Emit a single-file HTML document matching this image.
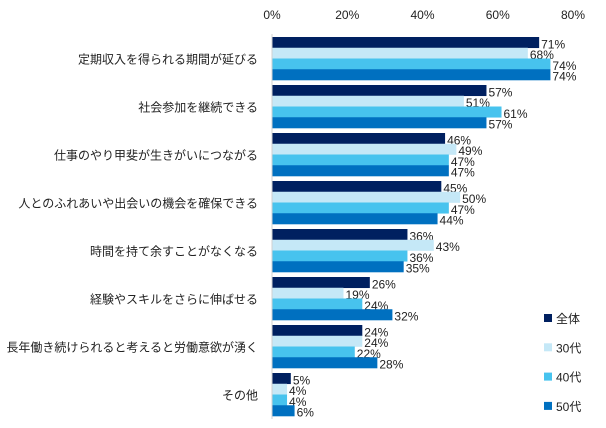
<!DOCTYPE html>
<html><head><meta charset="utf-8"><style>
body{margin:0;background:#fff;width:606px;height:423px;overflow:hidden}
svg text{font-family:"Liberation Sans","Noto Sans CJK JP",sans-serif;font-size:12px;fill:#222}
</style></head><body>
<svg id="c" width="606" height="423"></svg>
<script>
const categories=["定期収入を得られる期間が延びる","社会参加を継続できる","仕事のやり甲斐が生きがいにつながる","人とのふれあいや出会いの機会を確保できる","時間を持て余すことがなくなる","経験やスキルをさらに伸ばせる","長年働き続けられると考えると労働意欲が湧く","その他"];
const seriesNames=["全体","30代","40代","50代"];
const allAges=[71,57,46,45,36,26,24,5];
const age30=[68,51,49,50,43,19,24,4];
const age40=[74,61,47,47,36,24,22,4];
const age50=[74,57,47,44,35,32,28,6];
const ticks=[0,20,40,60,80];
const colors=["#002060","#C5E8F7","#47C3EE","#0070C0"];
const series=[allAges,age30,age40,age50];
const NS="http://www.w3.org/2000/svg";
const svg=document.getElementById("c");
const x0=272,pxPer=301/80,top0=37,pitch=48,bh=10.75;
const xs=v=>x0+v*pxPer;
function mk(t,a){const e=document.createElementNS(NS,t);for(const k in a)e.setAttribute(k,a[k]);svg.appendChild(e);return e;}
ticks.forEach(t=>{const e=mk("text",{x:xs(t),y:19,"text-anchor":"middle"});e.textContent=t+"%";

});
categories.forEach((c,i)=>{const gy=top0+i*pitch;
const e=mk("text",{x:258,y:gy+bh*2+5,"text-anchor":"end"});e.textContent=c;


series.forEach((s,j)=>{const y=gy+j*bh;
const r=mk("rect",{x:x0,y:y,width:xs(s[i])-x0,height:bh+0.3,fill:colors[j]});


const l=mk("text",{x:xs(s[i])+2,y:y+bh+0.5});l.textContent=s[i]+"%";

});});
const ax=mk("line",{x1:x0,y1:34,x2:x0,y2:419,stroke:"#d0d0d0","stroke-width":1});


seriesNames.forEach((n,j)=>{const y=314+j*29.3;
const r=mk("rect",{x:544,y:y,width:8,height:8,fill:colors[j]});


const t=mk("text",{x:556,y:y+9});t.textContent=n;

});
</script>
</body></html>
